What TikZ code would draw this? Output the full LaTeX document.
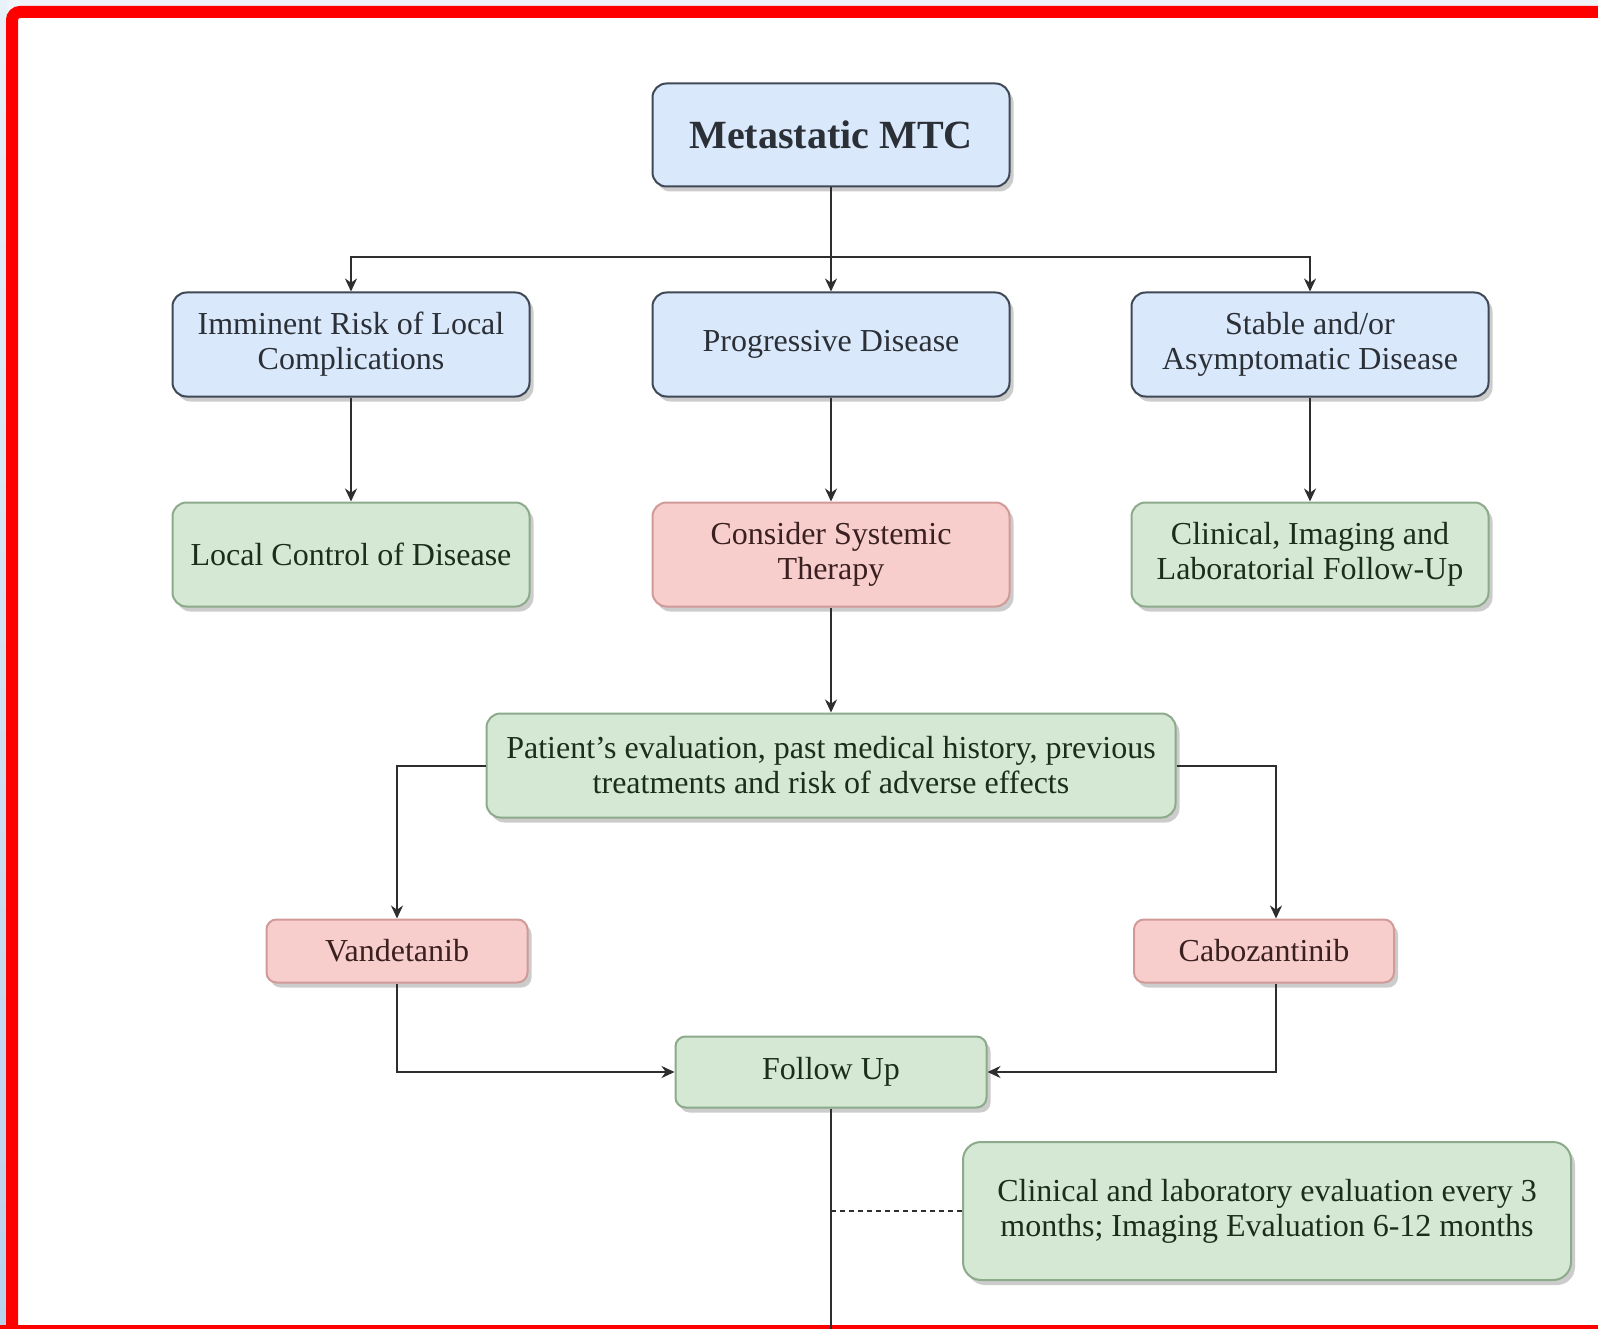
\documentclass[tikz,border=0pt]{standalone}
\usepackage{fontspec}
\setmainfont{Liberation Serif}
\usetikzlibrary{arrows.meta,positioning,shadows}
\definecolor{bluefill}{HTML}{DAE8FC}
\definecolor{bluedraw}{HTML}{3F4855}
\definecolor{bluetext}{HTML}{2B2F36}
\definecolor{greenfill}{HTML}{D5E8D4}
\definecolor{greendraw}{HTML}{8DAA8B}
\definecolor{greentext}{HTML}{1C2E1B}
\definecolor{redfill}{HTML}{F8CECC}
\definecolor{reddraw}{HTML}{D09A98}
\definecolor{redtext}{HTML}{3A2020}
\definecolor{linecol}{HTML}{2E2E2E}
\definecolor{pagebg}{HTML}{F0F4F8}
\definecolor{striptop}{HTML}{E8F0F8}
\definecolor{stripbot}{HTML}{B8D2EC}

\begin{document}
\begin{tikzpicture}[x=1pt,y=-1pt,>={Stealth[length=13pt,width=12pt]},node distance=104pt,
  every node/.style={font=\fontsize{32}{35}\selectfont},
  box/.style={draw,line width=2pt,rounded corners=14pt,align=center,inner sep=0pt,
    minimum width=357pt,minimum height=103pt,
    drop shadow={shadow xshift=4pt,shadow yshift=-5pt,opacity=.4}},
  bluebox/.style={box,fill=bluefill,draw=bluedraw,text=bluetext},
  greenbox/.style={box,fill=greenfill,draw=greendraw,text=greentext},
  redbox/.style={box,fill=redfill,draw=reddraw,text=redtext},
  link/.style={line width=2pt,draw=linecol}]
\useasboundingbox (0,0) rectangle (1598,1329);
\clip (0,0) rectangle (1598,1329);
% screenshot frame
\fill[pagebg] (0,0) rectangle (1598,1329);
\shade[top color=striptop,bottom color=stripbot] (0,0) rectangle (7,1329);
\fill[white] (18,18) rectangle (1598,1325);
\draw[red,line width=12pt,rounded corners=8pt] (12,1340) -- (12,12) -- (1610,12);
\draw[red,line width=12pt] (0,1331) -- (1610,1331);

\node[bluebox,font=\fontsize{40}{44}\selectfont\bfseries] (top) at (831,135) {Metastatic MTC};
\node[bluebox,below=of top,minimum height=104pt] (progressive) {Progressive Disease};
\node[bluebox,left=121pt of progressive,minimum height=104pt] (imminent) {Imminent Risk of Local\\Complications};
\node[bluebox,right=120pt of progressive,minimum height=104pt] (stable) {Stable and/or\\Asymptomatic Disease};
\node[greenbox,below=of imminent,minimum height=104pt] (localctrl) {Local Control of Disease};
\node[redbox,below=of progressive,minimum height=104pt] (systemic) {Consider Systemic\\Therapy};
\node[greenbox,below=of stable,minimum height=104pt] (clinfollow) {Clinical, Imaging and\\Laboratorial Follow-Up};
\node[greenbox,below=105pt of systemic,minimum width=689pt,minimum height=104pt] (patient) {Patient's evaluation, past medical history, previous\\treatments and risk of adverse effects};
\node[redbox,rounded corners=10pt,minimum width=261pt,minimum height=63pt] (vandetanib) at (397,951) {Vandetanib};
\node[redbox,rounded corners=10pt,minimum width=260pt,minimum height=63pt] (cabozantinib) at (1264,951) {Cabozantinib};
\node[greenbox,rounded corners=10pt,minimum width=311pt,minimum height=71pt] (followup) at (831,1072) {Follow Up};
\node[greenbox,rounded corners=18pt,minimum width=608pt,minimum height=138pt] (schedule) at (1267,1211) {Clinical and laboratory evaluation every 3\\months; Imaging Evaluation 6-12 months};

\coordinate (bus) at (831,257);
\coordinate (cabtop) at ([xshift=12pt]cabozantinib.north);
\coordinate (cabbot) at ([xshift=12pt]cabozantinib.south);
\coordinate (tail) at (831,1340);
\coordinate (tap) at (followup |- schedule);

\draw[link,->] (top) -- (progressive);
\draw[link,->] (bus) -| (imminent);
\draw[link,->] (bus) -| (stable);
\draw[link,->] (imminent) -- (localctrl);
\draw[link,->] (progressive) -- (systemic);
\draw[link,->] (stable) -- (clinfollow);
\draw[link,->] (systemic) -- (patient);
\draw[link,->] (patient.west) -| (vandetanib);
\draw[link,->] (patient.east) -| (cabtop);
\draw[link,->] (vandetanib) |- (followup);
\draw[link,->] (cabbot) |- (followup);
\draw[link] (followup) -- (tail);
\draw[link,line width=1.5pt,dash pattern=on 5pt off 4pt] (tap) -- (schedule);
\end{tikzpicture}
\end{document}
